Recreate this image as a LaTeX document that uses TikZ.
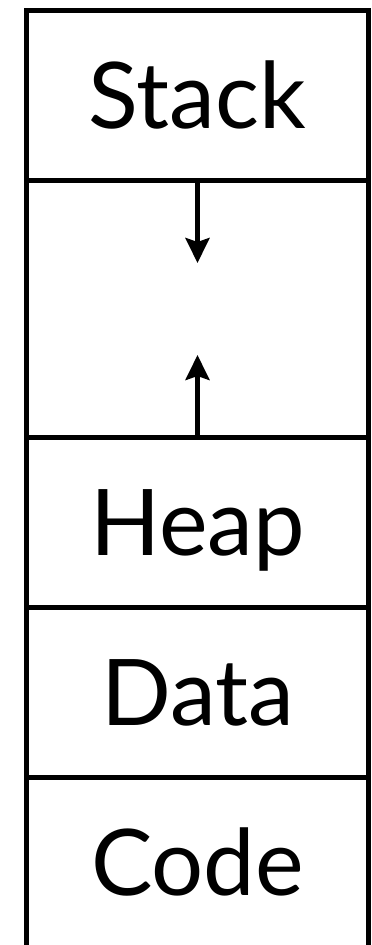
\documentclass[tikz,border=0pt]{standalone}
\usepackage{fontspec}
\setmainfont{Lato}
\usetikzlibrary{arrows.meta, positioning}

\begin{document}
\begin{tikzpicture}[x=1pt,y=1pt,node distance=0pt,
  segment/.style={draw,line width=5pt,minimum width=342pt,minimum height=170pt,
    outer sep=0pt,inner sep=0pt,text height=66pt,text depth=0pt,
    font=\fontsize{92}{92}\selectfont},
  growth/.style={-{Stealth[length=25pt,width=24pt,inset=4pt]},line width=4.5pt}]
  \useasboundingbox (0,0) rectangle (372,-945);

  \node[segment]                     (stack) at (197.5,-95.5) {Stack};
  \node[segment,minimum height=257pt] (free)  [below=of stack] {};
  \node[segment]                     (heap)  [below=of free]  {Heap};
  \node[segment]                     (data)  [below=of heap]  {Data};
  \node[segment]                     (code)  [below=of data]  {Code};

  \coordinate (stackend) at ([yshift=-82.5pt]free.north);
  \coordinate (heapend)  at ([yshift=82.5pt]free.south);

  \draw[growth] (free.north) -- (stackend);
  \draw[growth] (free.south) -- (heapend);
\end{tikzpicture}
\end{document}
